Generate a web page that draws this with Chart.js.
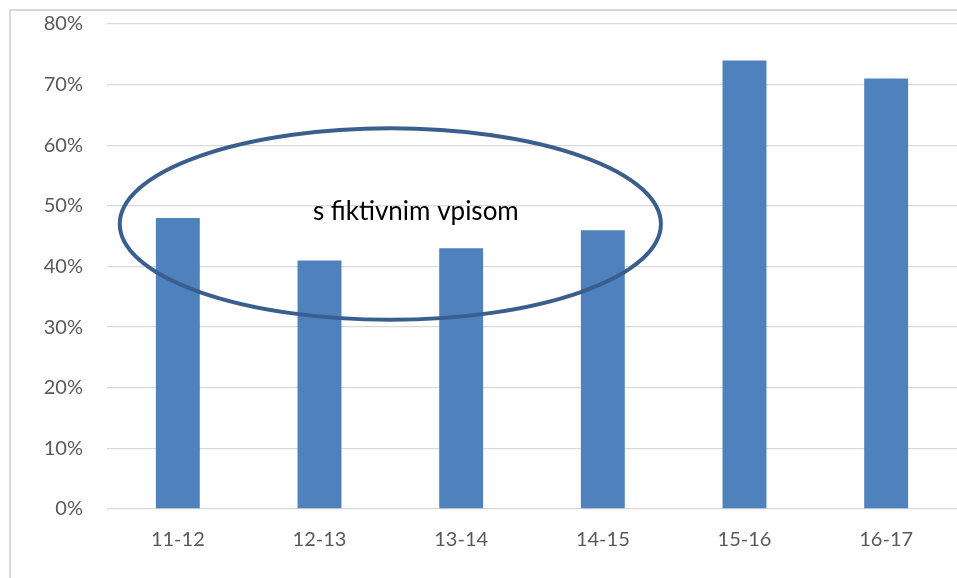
<!DOCTYPE html>
<html>
<head>
<meta charset="utf-8">
<script src="https://cdn.jsdelivr.net/npm/chart.js@4"></script>
<style>
  html, body { margin: 0; padding: 0; background: #fff; overflow: hidden; }
  #wrap { position: relative; width: 957px; height: 578px; }
  #frame { position: absolute; left: 9px; top: 9px; width: 1000px; height: 1000px; border: 2px solid #d9d9d9; }
  canvas { position: absolute; left: 0; top: 0; }
</style>
</head>
<body>
<div id="wrap">
  <div id="frame"></div>
  <canvas id="chart" width="957" height="578"></canvas>
</div>
<script>
const years = ["11-12", "12-13", "13-14", "14-15", "15-16", "16-17"];
const shares = [48, 41, 43, 46, 74, 71];
const noteText = "s fiktivnim vpisom";

// ellipse around the first four bars, in data units (category index / percent)
const ellipsePlugin = {
  id: 'ellipse',
  afterDatasetsDraw(chart) {
    const { ctx, scales: { x, y } } = chart;
    const cx = x.getPixelForValue(1.5);
    const rx = x.getPixelForValue(1.5 + 1.91) - cx;
    const cy = y.getPixelForValue(47);
    const ry = cy - y.getPixelForValue(47 + 15.8);
    ctx.save();
    ctx.beginPath();
    ctx.ellipse(cx, cy, rx, ry, 0, 0, Math.PI * 2);
    ctx.lineWidth = 4;
    ctx.strokeStyle = '#3a5f8f';
    ctx.stroke();
    ctx.font = '26px Lato, "Open Sans", sans-serif';
    ctx.fillStyle = '#000';
    ctx.textAlign = 'center';
    ctx.textBaseline = 'middle';
    ctx.fillText(noteText, x.getPixelForValue(1.68), y.getPixelForValue(49));
    ctx.restore();
  }
};

const ctx = document.getElementById('chart').getContext('2d');
new Chart(ctx, {
  type: 'bar',
  data: {
    labels: years,
    datasets: [{
      data: shares,
      backgroundColor: '#4f81bd',
      barPercentage: 0.31,
      categoryPercentage: 1
    }]
  },
  options: {
    responsive: false,
    animation: false,
    layout: { padding: { top: 24, right: 0, left: 0, bottom: 0 } },
    plugins: { legend: { display: false }, tooltip: { enabled: false } },
    scales: {
      x: {
        grid: { display: false, drawTicks: false },
        border: { display: false },
        ticks: { color: '#595959', font: { family: 'Lato', size: 20 }, padding: 19 },
        afterFit(s) { s.height = 69; }
      },
      y: {
        min: 0,
        max: 80,
        grid: { color: '#d9d9d9', lineWidth: 1.3, drawTicks: false },
        border: { display: false },
        ticks: {
          stepSize: 10,
          color: '#595959',
          font: { family: 'Lato', size: 20 },
          padding: 24,
          callback: v => v + '%'
        },
        afterFit(s) { s.width = 107; s.paddingTop = 0; s.paddingBottom = 0; }
      }
    }
  },
  plugins: [ellipsePlugin]
});
</script>
</body>
</html>
